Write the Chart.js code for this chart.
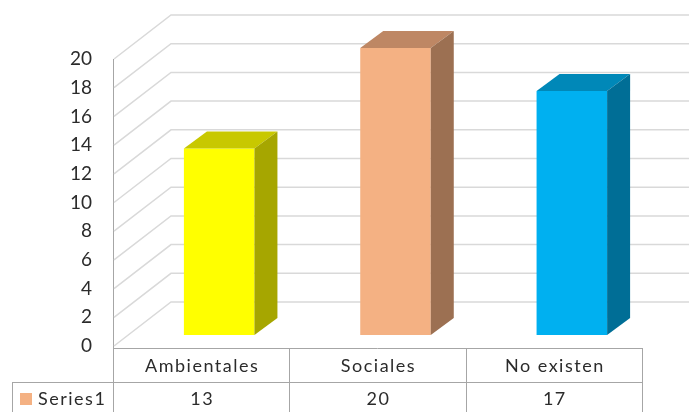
<!DOCTYPE html>
<html>
<head>
<meta charset="utf-8">
<script src="https://cdn.jsdelivr.net/npm/chart.js@4/dist/chart.umd.min.js"></script>
<style>
  body { margin: 0; background: #fff; }
  #wrap { width: 689px; height: 412px; }
</style>
</head>
<body>
<div id="wrap"><canvas id="chart" width="689" height="412"></canvas></div>
<script>
// data
var categories = ['Ambientales', 'Sociales', 'No existen'];
var seriesName = 'Series1';
var values = [13, 20, 17];
var yMin = 0, yMax = 20, yStep = 2;

// styles
var frontColors = ['#FFFF00', '#F4B183', '#00B0F0'];
var topColors = ['#C8C800', '#BE8764', '#0088B8'];
var sideColors = ['#A6A600', '#9C7052', '#006E96'];
var legendColor = '#F4B183';
var textColor = '#2b2b2b';
var gridColor = '#d9d9d9';
var lineColor = '#a6a6a6';
var fontFamily = 'Lato, "Open Sans", sans-serif';

var wallDx = 58, wallDy = -44;   // side wall depth
var barShiftX = 18, barShiftY = -11; // bars sit inside the depth
var barDx = 23, barDy = -17;     // bar depth

var threeD = {
  id: 'threeD',
  beforeDatasetsDraw: function(c) {
    var ctx = c.ctx, y = c.scales.y, a = c.chartArea;
    ctx.save();
    ctx.strokeStyle = gridColor;
    ctx.lineWidth = 1.5;
    for (var v = yMin; v <= yMax; v += yStep) {
      var py = y.getPixelForValue(v);
      ctx.beginPath();
      ctx.moveTo(a.left + 1, py);
      ctx.lineTo(a.left + wallDx, py + wallDy);
      ctx.lineTo(a.right + wallDx, py + wallDy);
      ctx.stroke();
    }
    ctx.restore();
    ctx.save();
    ctx.translate(barShiftX, barShiftY);
  },
  afterDatasetsDraw: function(c) {
    var ctx = c.ctx;
    var bars = c.getDatasetMeta(0).data;
    bars.forEach(function(b, i) {
      var p = b.getProps(['x', 'y', 'base', 'width'], true);
      var l = p.x - p.width / 2, r = p.x + p.width / 2;
      ctx.fillStyle = topColors[i];
      ctx.beginPath();
      ctx.moveTo(l, p.y);
      ctx.lineTo(l + barDx, p.y + barDy);
      ctx.lineTo(r + barDx, p.y + barDy);
      ctx.lineTo(r, p.y);
      ctx.closePath();
      ctx.fill();
      ctx.fillStyle = sideColors[i];
      ctx.beginPath();
      ctx.moveTo(r, p.y);
      ctx.lineTo(r + barDx, p.y + barDy);
      ctx.lineTo(r + barDx, p.base + barDy);
      ctx.lineTo(r, p.base);
      ctx.closePath();
      ctx.fill();
    });
    ctx.restore();
  }
};

// data table under the plot: category row + Series1 row
var dataTable = {
  id: 'dataTable',
  afterDraw: function(c) {
    var ctx = c.ctx, x = c.scales.x, a = c.chartArea;
    var n = categories.length, colW = (a.right - a.left) / n;
    var top = a.bottom + 2, mid = a.bottom + 36, bottom = c.height;
    ctx.save();
    ctx.strokeStyle = lineColor;
    ctx.lineWidth = 1;
    ctx.beginPath();
    ctx.moveTo(a.left, top + 0.5); ctx.lineTo(a.right, top + 0.5);
    ctx.moveTo(12, mid + 0.5); ctx.lineTo(a.right, mid + 0.5);
    ctx.moveTo(12.5, mid); ctx.lineTo(12.5, bottom);
    for (var i = 0; i <= n; i++) {
      var bx = Math.round(a.left + i * colW) + 0.5;
      ctx.moveTo(bx, i === 0 ? a.bottom : top);
      ctx.lineTo(bx, bottom);
    }
    ctx.stroke();
    ctx.fillStyle = legendColor;
    ctx.fillRect(20, mid + 11, 12, 12);
    ctx.fillStyle = textColor;
    ctx.font = '18px ' + fontFamily;
    ctx.letterSpacing = '1.5px';
    ctx.textBaseline = 'middle';
    ctx.textAlign = 'left';
    ctx.fillText(seriesName, 38, mid + 17);
    ctx.textAlign = 'center';
    categories.forEach(function(label, i) {
      ctx.fillText(label, x.getPixelForValue(i) + 1, (top + mid) / 2 + 1);
    });
    values.forEach(function(v, i) {
      ctx.fillText(String(v), x.getPixelForValue(i) + 1, mid + 17);
    });
    ctx.restore();
  }
};

new Chart(document.getElementById('chart'), {
  type: 'bar',
  data: {
    labels: categories,
    datasets: [{
      label: seriesName,
      data: values,
      backgroundColor: frontColors,
      borderWidth: 0,
      barPercentage: 0.4,
      categoryPercentage: 1
    }]
  },
  options: {
    responsive: false,
    animation: false,
    layout: { padding: { top: 59, right: 47, left: 0, bottom: 0 } },
    plugins: { legend: { display: false }, tooltip: { enabled: false } },
    scales: {
      x: {
        grid: { display: false },
        border: { display: false },
        ticks: { display: false },
        afterFit: function(s) { s.height = 66; }
      },
      y: {
        min: yMin, max: yMax,
        grid: { display: false, drawTicks: false },
        border: { display: true, color: lineColor, width: 1 },
        ticks: { stepSize: yStep, color: textColor, font: { family: fontFamily, size: 19 }, padding: 21 },
        afterFit: function(s) { s.width = 113; }
      }
    }
  },
  plugins: [threeD, dataTable]
});
</script>
</body>
</html>
